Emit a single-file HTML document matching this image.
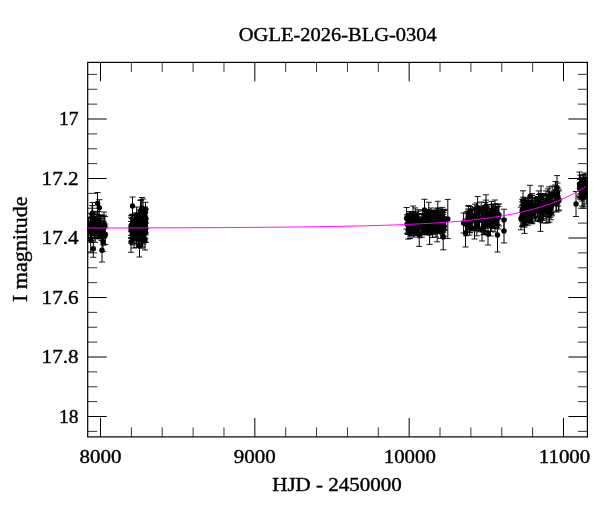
<!DOCTYPE html>
<html><head><meta charset="utf-8"><title>OGLE-2026-BLG-0304</title>
<style>html,body{margin:0;padding:0;background:#fff;overflow:hidden}svg{display:block;will-change:transform}</style></head>
<body>
<svg width="600" height="512" viewBox="0 0 600 512">
<rect width="600" height="512" fill="#fff"/>
<defs><clipPath id="c"><rect x="87.7" y="62.4" width="499.7" height="374.5"/></clipPath></defs>
<path d="M100.50 62.4v19.0M100.50 436.9v-19.0M254.83 62.4v19.0M254.83 436.9v-19.0M409.17 62.4v19.0M409.17 436.9v-19.0M563.50 62.4v19.0M563.50 436.9v-19.0M87.7 119.00h19.0M587.4 119.00h-19.0M87.7 178.50h19.0M587.4 178.50h-19.0M87.7 238.00h19.0M587.4 238.00h-19.0M87.7 297.50h19.0M587.4 297.50h-19.0M87.7 357.00h19.0M587.4 357.00h-19.0M87.7 416.50h19.0M587.4 416.50h-19.0" stroke="#000" stroke-width="1" fill="none"/>
<path d="M131.37 62.4v9.5M131.37 436.9v-9.5M162.23 62.4v9.5M162.23 436.9v-9.5M193.10 62.4v9.5M193.10 436.9v-9.5M223.97 62.4v9.5M223.97 436.9v-9.5M285.70 62.4v9.5M285.70 436.9v-9.5M316.57 62.4v9.5M316.57 436.9v-9.5M347.43 62.4v9.5M347.43 436.9v-9.5M378.30 62.4v9.5M378.30 436.9v-9.5M440.03 62.4v9.5M440.03 436.9v-9.5M470.90 62.4v9.5M470.90 436.9v-9.5M501.77 62.4v9.5M501.77 436.9v-9.5M532.63 62.4v9.5M532.63 436.9v-9.5M87.7 74.38h9.5M587.4 74.38h-9.5M87.7 89.25h9.5M587.4 89.25h-9.5M87.7 104.12h9.5M587.4 104.12h-9.5M87.7 133.88h9.5M587.4 133.88h-9.5M87.7 148.75h9.5M587.4 148.75h-9.5M87.7 163.62h9.5M587.4 163.62h-9.5M87.7 193.38h9.5M587.4 193.38h-9.5M87.7 208.25h9.5M587.4 208.25h-9.5M87.7 223.13h9.5M587.4 223.13h-9.5M87.7 252.87h9.5M587.4 252.87h-9.5M87.7 267.75h9.5M587.4 267.75h-9.5M87.7 282.63h9.5M587.4 282.63h-9.5M87.7 312.37h9.5M587.4 312.37h-9.5M87.7 327.25h9.5M587.4 327.25h-9.5M87.7 342.12h9.5M587.4 342.12h-9.5M87.7 371.88h9.5M587.4 371.88h-9.5M87.7 386.75h9.5M587.4 386.75h-9.5M87.7 401.62h9.5M587.4 401.62h-9.5M87.7 431.38h9.5M587.4 431.38h-9.5" stroke="#000" stroke-width="0.8" fill="none"/>
<rect x="87.7" y="62.4" width="499.7" height="374.5" fill="none" stroke="#000" stroke-width="1.2"/>
<g clip-path="url(#c)">
<path d="M96.0 211.6V233.0M99.3 220.4V238.0M97.8 218.6V238.8M91.2 217.1V237.2M92.1 205.6V227.8M99.0 216.0V235.1M88.6 217.5V238.1M98.4 219.8V237.2M98.1 211.4V230.8M94.1 216.4V235.3M92.1 214.6V232.5M91.8 213.4V235.3M91.6 223.1V242.4M93.8 212.9V235.8M94.6 217.6V238.1M95.1 221.7V242.3M100.4 214.9V235.8M98.0 216.9V238.0M96.0 219.5V237.4M100.4 218.4V238.1M91.1 213.3V231.7M90.4 218.6V238.0M101.0 216.2V238.8M105.3 224.1V244.4M101.6 222.4V240.5M103.9 215.2V237.5M102.0 215.7V236.6M104.9 216.5V236.9M103.8 226.0V245.2M132.8 228.8V244.9M132.1 215.0V234.2M131.2 215.4V235.4M134.9 219.4V238.0M133.1 220.1V239.7M133.5 218.6V235.8M132.4 218.6V235.6M134.4 221.8V239.6M131.1 221.5V238.4M132.7 214.9V232.6M131.1 217.2V238.0M131.6 218.6V237.5M135.4 214.8V232.5M134.0 220.3V237.6M132.9 214.1V234.9M133.4 222.7V240.9M145.7 222.9V242.5M141.1 228.3V248.2M141.2 226.0V246.1M144.9 211.9V231.3M143.4 209.7V227.5M141.7 224.2V240.5M140.2 213.0V231.6M144.7 217.9V237.7M140.1 224.0V241.0M145.1 210.2V227.5M136.7 207.0V225.6M140.3 219.4V239.2M141.1 217.9V238.4M145.4 218.2V234.8M138.5 219.6V236.6M144.0 213.1V233.1M142.7 209.9V229.2M143.1 217.2V236.8M142.2 212.0V233.0M145.6 208.5V229.2M139.3 220.6V240.8M139.9 217.6V237.5M138.0 221.1V239.1M136.5 212.9V232.1M138.1 215.8V232.7M145.1 212.5V232.3M144.3 213.1V232.9M137.1 219.2V238.8M142.0 214.5V232.7M140.7 220.9V238.8M141.9 220.7V238.8M142.5 230.9V247.1M139.0 210.1V230.3M145.5 223.4V242.1M140.6 218.4V236.4M142.2 218.4V237.2M142.3 210.1V229.7M137.8 216.4V234.3M136.6 221.9V242.1M140.1 217.1V237.7M143.6 219.4V237.3M144.1 217.9V234.6M143.2 224.3V244.1M137.1 217.3V238.3M145.0 207.4V224.1M143.9 214.3V233.9M144.7 207.0V227.1M141.2 199.7V220.3M145.1 216.7V233.3M136.5 227.0V243.5M136.3 217.7V238.6M136.2 213.2V229.7M138.5 214.3V231.2M138.5 224.7V243.5M137.9 219.6V237.9M141.6 218.3V238.0M136.4 219.1V236.1M141.8 217.8V238.4M137.6 223.8V240.9M142.7 221.0V240.8M136.2 220.9V237.3M139.1 213.0V231.3M145.3 222.6V238.8M141.3 215.3V232.9M144.0 225.1V242.7M142.5 211.1V230.7M142.0 218.0V236.3M137.9 219.7V236.0M141.7 210.1V231.1M136.4 227.1V247.6M442.2 211.6V228.8M416.1 215.8V234.5M421.9 214.2V231.9M415.4 212.8V230.8M411.4 216.1V235.9M407.8 215.0V232.8M426.1 215.7V234.9M411.3 214.9V233.4M413.4 211.6V230.2M440.1 212.4V232.3M425.4 214.8V232.6M413.7 216.9V237.1M432.6 210.4V230.4M416.9 214.2V233.5M427.1 209.6V227.0M417.5 216.2V235.6M426.6 210.7V229.8M431.0 208.0V227.6M427.4 214.3V232.2M421.9 216.9V237.2M437.3 208.2V228.3M440.6 210.6V228.1M413.5 212.8V231.0M411.8 212.2V229.5M410.9 215.5V235.3M444.7 209.9V230.0M443.2 210.1V230.5M415.5 216.2V235.4M444.3 210.4V229.8M414.6 215.7V235.1M426.3 211.1V230.1M425.9 209.8V230.0M442.2 207.4V226.6M408.1 220.8V239.1M418.8 213.5V232.3M429.9 215.4V232.7M409.1 214.5V234.0M415.7 214.8V234.2M424.6 214.5V233.0M440.9 218.4V238.3M436.2 210.0V229.6M438.8 208.9V227.2M436.2 211.2V228.6M434.1 210.2V227.9M439.6 216.0V233.8M433.1 216.5V234.7M435.2 210.8V229.4M418.3 209.7V229.8M413.0 214.1V232.1M436.0 217.1V237.1M413.0 206.0V225.4M442.4 214.1V234.1M429.8 210.8V229.3M419.3 218.4V235.6M443.0 209.4V229.1M412.6 214.3V232.3M426.6 210.1V227.8M410.1 211.5V231.2M444.2 216.8V236.2M428.9 216.9V234.8M437.8 212.6V230.6M417.5 211.2V231.4M437.8 208.1V226.2M433.9 212.2V231.6M431.6 214.3V231.9M443.6 212.3V232.1M423.4 214.6V232.2M422.7 210.9V229.8M433.5 214.2V231.5M439.1 213.1V232.1M419.6 217.8V237.7M432.6 220.0V237.5M414.7 214.6V232.7M428.0 211.3V230.9M436.5 213.1V232.3M409.0 213.4V231.6M434.9 211.2V230.4M407.1 214.9V233.6M443.9 209.3V229.3M424.8 216.3V234.5M422.5 213.6V233.2M434.6 214.1V233.4M426.9 213.1V232.7M435.0 211.6V230.0M409.8 211.7V231.2M428.4 212.9V232.4M428.3 212.5V231.0M442.9 214.5V231.8M408.0 214.2V234.5M424.2 209.8V229.3M431.1 214.5V232.4M428.0 209.6V229.1M409.4 213.4V231.5M429.6 213.1V231.8M415.2 207.9V227.8M414.1 215.1V233.7M440.8 214.0V232.1M414.2 214.5V232.7M424.2 213.6V231.1M435.8 212.9V230.8M434.1 211.1V229.1M428.1 213.7V231.5M438.0 212.4V229.8M424.7 214.5V233.2M430.7 210.7V228.6M490.7 208.6V231.1M496.9 206.8V225.4M475.1 211.9V230.3M485.2 210.9V230.6M483.0 206.2V228.9M468.5 205.5V223.7M470.2 210.1V232.7M495.6 203.9V225.0M481.9 208.5V226.9M493.0 204.9V225.7M468.2 209.0V229.3M485.9 200.1V220.9M495.0 210.3V232.0M495.0 207.2V228.6M466.2 212.8V235.8M483.5 216.0V234.8M478.4 208.3V230.4M491.5 201.4V221.5M468.5 206.3V228.2M474.9 204.3V226.8M493.2 204.1V227.1M481.7 209.5V228.8M481.2 202.0V222.2M498.4 206.3V229.0M476.7 202.9V225.7M467.4 211.5V231.4M479.1 207.4V230.1M471.1 209.0V229.0M468.7 210.1V230.0M485.0 205.7V227.5M497.9 204.3V224.7M485.4 202.5V222.8M487.7 208.0V228.0M476.8 215.6V235.8M485.1 215.8V234.5M491.2 212.9V231.3M485.7 209.9V231.6M492.9 204.7V225.5M484.4 212.7V234.1M472.6 208.7V230.7M485.5 208.6V227.7M482.4 208.2V227.4M471.6 210.6V230.0M486.7 207.0V226.5M493.4 206.1V227.9M470.5 206.5V226.4M484.3 207.5V227.1M490.6 214.9V236.0M479.5 209.4V228.4M475.0 209.6V228.1M478.5 210.3V231.8M484.1 210.1V231.8M489.0 204.4V223.9M484.7 207.2V228.4M469.6 214.2V232.4M493.4 208.2V228.2M496.9 206.7V227.6M469.4 215.9V235.1M474.4 207.5V227.3M471.8 209.7V230.8M540.0 202.4V221.7M526.7 202.2V220.9M543.6 194.4V213.3M524.4 201.9V222.8M551.6 195.8V215.9M528.2 200.6V220.7M529.7 202.3V221.3M528.1 198.1V219.4M552.2 186.1V205.6M530.7 202.9V222.9M540.5 199.3V219.6M552.2 192.3V214.9M551.0 194.2V213.4M523.3 204.4V226.0M537.9 196.5V216.1M540.3 193.5V216.0M543.4 195.5V215.5M532.2 203.2V223.8M532.0 193.6V216.0M522.1 205.4V226.7M523.1 200.4V218.8M538.8 194.5V213.2M524.3 204.3V227.2M528.2 201.1V219.3M532.2 195.3V214.8M524.1 198.9V221.7M522.9 205.9V224.0M550.3 198.5V217.3M535.3 197.6V216.7M528.2 202.7V221.1M543.6 198.3V218.7M522.3 199.3V220.2M529.5 201.6V221.2M551.3 194.1V212.6M549.4 191.3V213.3M541.4 194.1V216.1M524.8 201.2V222.0M531.7 200.4V219.1M522.9 199.5V220.2M528.7 198.4V219.5M522.8 205.5V225.7M525.8 200.7V223.0M541.3 199.9V219.8M525.1 205.1V225.7M526.8 203.6V222.2M549.5 201.4V222.2M532.2 195.7V217.6M532.2 201.4V223.1M524.6 200.7V220.0M546.3 200.0V223.0M542.6 201.4V223.0M538.7 190.9V211.0M540.8 193.6V213.7M525.1 202.6V224.5M529.9 203.3V222.2M539.8 199.2V220.4M551.0 192.5V214.1M546.9 196.2V216.8M541.5 197.8V220.2M537.8 197.4V217.8M522.5 205.2V225.6M549.2 186.8V206.2M524.0 202.4V225.0M525.9 197.8V217.4M543.1 198.8V220.2M546.8 194.2V214.3M546.0 190.9V213.6M535.8 198.4V221.1M527.4 198.5V216.7M523.1 197.2V220.1M548.0 188.8V209.8M551.8 194.0V212.3M529.4 201.6V222.1M548.4 198.8V217.1M534.3 198.0V218.8M531.5 203.8V222.7M537.4 198.1V218.0M522.2 201.9V221.4M535.5 200.0V221.0M528.1 203.1V225.2M543.7 193.6V216.2M537.3 197.4V217.0M583.5 180.3V198.1M579.5 178.7V197.2M582.1 185.8V206.1M586.2 184.8V204.0M580.3 175.2V194.3M585.6 177.7V197.8M584.1 186.6V206.2M581.6 182.8V201.0M584.9 179.2V196.5M581.5 179.0V197.9M585.8 174.4V195.0M580.1 179.6V199.0M580.3 179.3V196.6M584.8 180.4V199.2M582.6 177.8V196.4M580.5 178.6V197.9M583.1 174.4V193.7M581.6 178.6V199.4M583.3 175.8V194.1M584.7 177.3V195.9M97.5 192.5V214.5M92.5 202.5V223.5M99.3 199.7V215.7M104.0 212.0V234.0M103.3 224.3V244.3M103.0 231.7V251.7M102.0 238.6V262.0M93.3 240.1V257.3M90.7 228.0V252.0M132.5 197.0V215.0M142.0 197.5V218.5M143.0 199.0V220.0M140.5 200.5V221.5M145.5 202.3V221.7M145.8 209.5V228.5M131.0 231.7V252.3M139.5 235.0V257.0M145.0 230.0V250.0M134.0 228.0V248.0M406.6 207.5V229.1M424.5 199.3V220.7M428.8 202.3V222.7M437.8 201.3V222.7M447.8 199.4V238.6M410.0 217.5V238.5M419.2 222.6V246.4M429.6 221.6V244.4M437.2 220.2V241.8M443.2 224.2V249.8M477.6 196.4V218.6M486.0 194.8V217.2M495.0 200.0V222.0M499.0 204.0V226.0M504.0 209.2V230.8M504.0 219.0V243.0M497.5 218.0V252.0M465.5 219.0V247.0M463.6 213.0V233.0M474.5 218.0V239.0M482.0 219.0V241.0M488.0 223.0V245.0M523.0 190.8V213.2M530.0 185.3V207.7M541.0 186.0V209.0M557.0 175.6V199.4M556.0 187.0V211.0M558.5 191.0V211.0M555.0 185.0V205.0M557.5 183.0V203.0M556.5 196.0V212.0M558.0 188.0V206.0M555.5 181.5V200.5M559.0 190.0V210.0M521.0 207.2V229.8M524.5 210.6V233.4M540.5 208.6V231.4M548.0 200.2V222.8M551.0 197.3V219.7M576.0 191.5V216.5M579.5 172.0V196.0M583.0 184.0V208.0M581.0 178.0V198.0M585.0 173.0V193.0" stroke="#000" stroke-width="1" fill="none"/>
<path d="M93.0 211.6h6.0M93.0 233.0h6.0M96.3 220.4h6.0M96.3 238.0h6.0M94.8 218.6h6.0M94.8 238.8h6.0M88.2 217.1h6.0M88.2 237.2h6.0M89.1 205.6h6.0M89.1 227.8h6.0M96.0 216.0h6.0M96.0 235.1h6.0M85.6 217.5h6.0M85.6 238.1h6.0M95.4 219.8h6.0M95.4 237.2h6.0M95.1 211.4h6.0M95.1 230.8h6.0M91.1 216.4h6.0M91.1 235.3h6.0M89.1 214.6h6.0M89.1 232.5h6.0M88.8 213.4h6.0M88.8 235.3h6.0M88.6 223.1h6.0M88.6 242.4h6.0M90.8 212.9h6.0M90.8 235.8h6.0M91.6 217.6h6.0M91.6 238.1h6.0M92.1 221.7h6.0M92.1 242.3h6.0M97.4 214.9h6.0M97.4 235.8h6.0M95.0 216.9h6.0M95.0 238.0h6.0M93.0 219.5h6.0M93.0 237.4h6.0M97.4 218.4h6.0M97.4 238.1h6.0M88.1 213.3h6.0M88.1 231.7h6.0M87.4 218.6h6.0M87.4 238.0h6.0M98.0 216.2h6.0M98.0 238.8h6.0M102.3 224.1h6.0M102.3 244.4h6.0M98.6 222.4h6.0M98.6 240.5h6.0M100.9 215.2h6.0M100.9 237.5h6.0M99.0 215.7h6.0M99.0 236.6h6.0M101.9 216.5h6.0M101.9 236.9h6.0M100.8 226.0h6.0M100.8 245.2h6.0M129.8 228.8h6.0M129.8 244.9h6.0M129.1 215.0h6.0M129.1 234.2h6.0M128.2 215.4h6.0M128.2 235.4h6.0M131.9 219.4h6.0M131.9 238.0h6.0M130.1 220.1h6.0M130.1 239.7h6.0M130.5 218.6h6.0M130.5 235.8h6.0M129.4 218.6h6.0M129.4 235.6h6.0M131.4 221.8h6.0M131.4 239.6h6.0M128.1 221.5h6.0M128.1 238.4h6.0M129.7 214.9h6.0M129.7 232.6h6.0M128.1 217.2h6.0M128.1 238.0h6.0M128.6 218.6h6.0M128.6 237.5h6.0M132.4 214.8h6.0M132.4 232.5h6.0M131.0 220.3h6.0M131.0 237.6h6.0M129.9 214.1h6.0M129.9 234.9h6.0M130.4 222.7h6.0M130.4 240.9h6.0M142.7 222.9h6.0M142.7 242.5h6.0M138.1 228.3h6.0M138.1 248.2h6.0M138.2 226.0h6.0M138.2 246.1h6.0M141.9 211.9h6.0M141.9 231.3h6.0M140.4 209.7h6.0M140.4 227.5h6.0M138.7 224.2h6.0M138.7 240.5h6.0M137.2 213.0h6.0M137.2 231.6h6.0M141.7 217.9h6.0M141.7 237.7h6.0M137.1 224.0h6.0M137.1 241.0h6.0M142.1 210.2h6.0M142.1 227.5h6.0M133.7 207.0h6.0M133.7 225.6h6.0M137.3 219.4h6.0M137.3 239.2h6.0M138.1 217.9h6.0M138.1 238.4h6.0M142.4 218.2h6.0M142.4 234.8h6.0M135.5 219.6h6.0M135.5 236.6h6.0M141.0 213.1h6.0M141.0 233.1h6.0M139.7 209.9h6.0M139.7 229.2h6.0M140.1 217.2h6.0M140.1 236.8h6.0M139.2 212.0h6.0M139.2 233.0h6.0M142.6 208.5h6.0M142.6 229.2h6.0M136.3 220.6h6.0M136.3 240.8h6.0M136.9 217.6h6.0M136.9 237.5h6.0M135.0 221.1h6.0M135.0 239.1h6.0M133.5 212.9h6.0M133.5 232.1h6.0M135.1 215.8h6.0M135.1 232.7h6.0M142.1 212.5h6.0M142.1 232.3h6.0M141.3 213.1h6.0M141.3 232.9h6.0M134.1 219.2h6.0M134.1 238.8h6.0M139.0 214.5h6.0M139.0 232.7h6.0M137.7 220.9h6.0M137.7 238.8h6.0M138.9 220.7h6.0M138.9 238.8h6.0M139.5 230.9h6.0M139.5 247.1h6.0M136.0 210.1h6.0M136.0 230.3h6.0M142.5 223.4h6.0M142.5 242.1h6.0M137.6 218.4h6.0M137.6 236.4h6.0M139.2 218.4h6.0M139.2 237.2h6.0M139.3 210.1h6.0M139.3 229.7h6.0M134.8 216.4h6.0M134.8 234.3h6.0M133.6 221.9h6.0M133.6 242.1h6.0M137.1 217.1h6.0M137.1 237.7h6.0M140.6 219.4h6.0M140.6 237.3h6.0M141.1 217.9h6.0M141.1 234.6h6.0M140.2 224.3h6.0M140.2 244.1h6.0M134.1 217.3h6.0M134.1 238.3h6.0M142.0 207.4h6.0M142.0 224.1h6.0M140.9 214.3h6.0M140.9 233.9h6.0M141.7 207.0h6.0M141.7 227.1h6.0M138.2 199.7h6.0M138.2 220.3h6.0M142.1 216.7h6.0M142.1 233.3h6.0M133.5 227.0h6.0M133.5 243.5h6.0M133.3 217.7h6.0M133.3 238.6h6.0M133.2 213.2h6.0M133.2 229.7h6.0M135.5 214.3h6.0M135.5 231.2h6.0M135.5 224.7h6.0M135.5 243.5h6.0M134.9 219.6h6.0M134.9 237.9h6.0M138.6 218.3h6.0M138.6 238.0h6.0M133.4 219.1h6.0M133.4 236.1h6.0M138.8 217.8h6.0M138.8 238.4h6.0M134.6 223.8h6.0M134.6 240.9h6.0M139.7 221.0h6.0M139.7 240.8h6.0M133.2 220.9h6.0M133.2 237.3h6.0M136.1 213.0h6.0M136.1 231.3h6.0M142.3 222.6h6.0M142.3 238.8h6.0M138.3 215.3h6.0M138.3 232.9h6.0M141.0 225.1h6.0M141.0 242.7h6.0M139.5 211.1h6.0M139.5 230.7h6.0M139.0 218.0h6.0M139.0 236.3h6.0M134.9 219.7h6.0M134.9 236.0h6.0M138.7 210.1h6.0M138.7 231.1h6.0M133.4 227.1h6.0M133.4 247.6h6.0M439.2 211.6h6.0M439.2 228.8h6.0M413.1 215.8h6.0M413.1 234.5h6.0M418.9 214.2h6.0M418.9 231.9h6.0M412.4 212.8h6.0M412.4 230.8h6.0M408.4 216.1h6.0M408.4 235.9h6.0M404.8 215.0h6.0M404.8 232.8h6.0M423.1 215.7h6.0M423.1 234.9h6.0M408.3 214.9h6.0M408.3 233.4h6.0M410.4 211.6h6.0M410.4 230.2h6.0M437.1 212.4h6.0M437.1 232.3h6.0M422.4 214.8h6.0M422.4 232.6h6.0M410.7 216.9h6.0M410.7 237.1h6.0M429.6 210.4h6.0M429.6 230.4h6.0M413.9 214.2h6.0M413.9 233.5h6.0M424.1 209.6h6.0M424.1 227.0h6.0M414.5 216.2h6.0M414.5 235.6h6.0M423.6 210.7h6.0M423.6 229.8h6.0M428.0 208.0h6.0M428.0 227.6h6.0M424.4 214.3h6.0M424.4 232.2h6.0M418.9 216.9h6.0M418.9 237.2h6.0M434.3 208.2h6.0M434.3 228.3h6.0M437.6 210.6h6.0M437.6 228.1h6.0M410.5 212.8h6.0M410.5 231.0h6.0M408.8 212.2h6.0M408.8 229.5h6.0M407.9 215.5h6.0M407.9 235.3h6.0M441.7 209.9h6.0M441.7 230.0h6.0M440.2 210.1h6.0M440.2 230.5h6.0M412.5 216.2h6.0M412.5 235.4h6.0M441.3 210.4h6.0M441.3 229.8h6.0M411.6 215.7h6.0M411.6 235.1h6.0M423.3 211.1h6.0M423.3 230.1h6.0M422.9 209.8h6.0M422.9 230.0h6.0M439.2 207.4h6.0M439.2 226.6h6.0M405.1 220.8h6.0M405.1 239.1h6.0M415.8 213.5h6.0M415.8 232.3h6.0M426.9 215.4h6.0M426.9 232.7h6.0M406.1 214.5h6.0M406.1 234.0h6.0M412.7 214.8h6.0M412.7 234.2h6.0M421.6 214.5h6.0M421.6 233.0h6.0M437.9 218.4h6.0M437.9 238.3h6.0M433.2 210.0h6.0M433.2 229.6h6.0M435.8 208.9h6.0M435.8 227.2h6.0M433.2 211.2h6.0M433.2 228.6h6.0M431.1 210.2h6.0M431.1 227.9h6.0M436.6 216.0h6.0M436.6 233.8h6.0M430.1 216.5h6.0M430.1 234.7h6.0M432.2 210.8h6.0M432.2 229.4h6.0M415.3 209.7h6.0M415.3 229.8h6.0M410.0 214.1h6.0M410.0 232.1h6.0M433.0 217.1h6.0M433.0 237.1h6.0M410.0 206.0h6.0M410.0 225.4h6.0M439.4 214.1h6.0M439.4 234.1h6.0M426.8 210.8h6.0M426.8 229.3h6.0M416.3 218.4h6.0M416.3 235.6h6.0M440.0 209.4h6.0M440.0 229.1h6.0M409.6 214.3h6.0M409.6 232.3h6.0M423.6 210.1h6.0M423.6 227.8h6.0M407.1 211.5h6.0M407.1 231.2h6.0M441.2 216.8h6.0M441.2 236.2h6.0M425.9 216.9h6.0M425.9 234.8h6.0M434.8 212.6h6.0M434.8 230.6h6.0M414.5 211.2h6.0M414.5 231.4h6.0M434.8 208.1h6.0M434.8 226.2h6.0M430.9 212.2h6.0M430.9 231.6h6.0M428.6 214.3h6.0M428.6 231.9h6.0M440.6 212.3h6.0M440.6 232.1h6.0M420.4 214.6h6.0M420.4 232.2h6.0M419.7 210.9h6.0M419.7 229.8h6.0M430.5 214.2h6.0M430.5 231.5h6.0M436.1 213.1h6.0M436.1 232.1h6.0M416.6 217.8h6.0M416.6 237.7h6.0M429.6 220.0h6.0M429.6 237.5h6.0M411.7 214.6h6.0M411.7 232.7h6.0M425.0 211.3h6.0M425.0 230.9h6.0M433.5 213.1h6.0M433.5 232.3h6.0M406.0 213.4h6.0M406.0 231.6h6.0M431.9 211.2h6.0M431.9 230.4h6.0M404.1 214.9h6.0M404.1 233.6h6.0M440.9 209.3h6.0M440.9 229.3h6.0M421.8 216.3h6.0M421.8 234.5h6.0M419.5 213.6h6.0M419.5 233.2h6.0M431.6 214.1h6.0M431.6 233.4h6.0M423.9 213.1h6.0M423.9 232.7h6.0M432.0 211.6h6.0M432.0 230.0h6.0M406.8 211.7h6.0M406.8 231.2h6.0M425.4 212.9h6.0M425.4 232.4h6.0M425.3 212.5h6.0M425.3 231.0h6.0M439.9 214.5h6.0M439.9 231.8h6.0M405.0 214.2h6.0M405.0 234.5h6.0M421.2 209.8h6.0M421.2 229.3h6.0M428.1 214.5h6.0M428.1 232.4h6.0M425.0 209.6h6.0M425.0 229.1h6.0M406.4 213.4h6.0M406.4 231.5h6.0M426.6 213.1h6.0M426.6 231.8h6.0M412.2 207.9h6.0M412.2 227.8h6.0M411.1 215.1h6.0M411.1 233.7h6.0M437.8 214.0h6.0M437.8 232.1h6.0M411.2 214.5h6.0M411.2 232.7h6.0M421.2 213.6h6.0M421.2 231.1h6.0M432.8 212.9h6.0M432.8 230.8h6.0M431.1 211.1h6.0M431.1 229.1h6.0M425.1 213.7h6.0M425.1 231.5h6.0M435.0 212.4h6.0M435.0 229.8h6.0M421.7 214.5h6.0M421.7 233.2h6.0M427.7 210.7h6.0M427.7 228.6h6.0M487.7 208.6h6.0M487.7 231.1h6.0M493.9 206.8h6.0M493.9 225.4h6.0M472.1 211.9h6.0M472.1 230.3h6.0M482.2 210.9h6.0M482.2 230.6h6.0M480.0 206.2h6.0M480.0 228.9h6.0M465.5 205.5h6.0M465.5 223.7h6.0M467.2 210.1h6.0M467.2 232.7h6.0M492.6 203.9h6.0M492.6 225.0h6.0M478.9 208.5h6.0M478.9 226.9h6.0M490.0 204.9h6.0M490.0 225.7h6.0M465.2 209.0h6.0M465.2 229.3h6.0M482.9 200.1h6.0M482.9 220.9h6.0M492.0 210.3h6.0M492.0 232.0h6.0M492.0 207.2h6.0M492.0 228.6h6.0M463.2 212.8h6.0M463.2 235.8h6.0M480.5 216.0h6.0M480.5 234.8h6.0M475.4 208.3h6.0M475.4 230.4h6.0M488.5 201.4h6.0M488.5 221.5h6.0M465.5 206.3h6.0M465.5 228.2h6.0M471.9 204.3h6.0M471.9 226.8h6.0M490.2 204.1h6.0M490.2 227.1h6.0M478.7 209.5h6.0M478.7 228.8h6.0M478.2 202.0h6.0M478.2 222.2h6.0M495.4 206.3h6.0M495.4 229.0h6.0M473.7 202.9h6.0M473.7 225.7h6.0M464.4 211.5h6.0M464.4 231.4h6.0M476.1 207.4h6.0M476.1 230.1h6.0M468.1 209.0h6.0M468.1 229.0h6.0M465.7 210.1h6.0M465.7 230.0h6.0M482.0 205.7h6.0M482.0 227.5h6.0M494.9 204.3h6.0M494.9 224.7h6.0M482.4 202.5h6.0M482.4 222.8h6.0M484.7 208.0h6.0M484.7 228.0h6.0M473.8 215.6h6.0M473.8 235.8h6.0M482.1 215.8h6.0M482.1 234.5h6.0M488.2 212.9h6.0M488.2 231.3h6.0M482.7 209.9h6.0M482.7 231.6h6.0M489.9 204.7h6.0M489.9 225.5h6.0M481.4 212.7h6.0M481.4 234.1h6.0M469.6 208.7h6.0M469.6 230.7h6.0M482.5 208.6h6.0M482.5 227.7h6.0M479.4 208.2h6.0M479.4 227.4h6.0M468.6 210.6h6.0M468.6 230.0h6.0M483.7 207.0h6.0M483.7 226.5h6.0M490.4 206.1h6.0M490.4 227.9h6.0M467.5 206.5h6.0M467.5 226.4h6.0M481.3 207.5h6.0M481.3 227.1h6.0M487.6 214.9h6.0M487.6 236.0h6.0M476.5 209.4h6.0M476.5 228.4h6.0M472.0 209.6h6.0M472.0 228.1h6.0M475.5 210.3h6.0M475.5 231.8h6.0M481.1 210.1h6.0M481.1 231.8h6.0M486.0 204.4h6.0M486.0 223.9h6.0M481.7 207.2h6.0M481.7 228.4h6.0M466.6 214.2h6.0M466.6 232.4h6.0M490.4 208.2h6.0M490.4 228.2h6.0M493.9 206.7h6.0M493.9 227.6h6.0M466.4 215.9h6.0M466.4 235.1h6.0M471.4 207.5h6.0M471.4 227.3h6.0M468.8 209.7h6.0M468.8 230.8h6.0M537.0 202.4h6.0M537.0 221.7h6.0M523.7 202.2h6.0M523.7 220.9h6.0M540.6 194.4h6.0M540.6 213.3h6.0M521.4 201.9h6.0M521.4 222.8h6.0M548.6 195.8h6.0M548.6 215.9h6.0M525.2 200.6h6.0M525.2 220.7h6.0M526.7 202.3h6.0M526.7 221.3h6.0M525.1 198.1h6.0M525.1 219.4h6.0M549.2 186.1h6.0M549.2 205.6h6.0M527.7 202.9h6.0M527.7 222.9h6.0M537.5 199.3h6.0M537.5 219.6h6.0M549.2 192.3h6.0M549.2 214.9h6.0M548.0 194.2h6.0M548.0 213.4h6.0M520.3 204.4h6.0M520.3 226.0h6.0M534.9 196.5h6.0M534.9 216.1h6.0M537.3 193.5h6.0M537.3 216.0h6.0M540.4 195.5h6.0M540.4 215.5h6.0M529.2 203.2h6.0M529.2 223.8h6.0M529.0 193.6h6.0M529.0 216.0h6.0M519.1 205.4h6.0M519.1 226.7h6.0M520.1 200.4h6.0M520.1 218.8h6.0M535.8 194.5h6.0M535.8 213.2h6.0M521.3 204.3h6.0M521.3 227.2h6.0M525.2 201.1h6.0M525.2 219.3h6.0M529.2 195.3h6.0M529.2 214.8h6.0M521.1 198.9h6.0M521.1 221.7h6.0M519.9 205.9h6.0M519.9 224.0h6.0M547.3 198.5h6.0M547.3 217.3h6.0M532.3 197.6h6.0M532.3 216.7h6.0M525.2 202.7h6.0M525.2 221.1h6.0M540.6 198.3h6.0M540.6 218.7h6.0M519.3 199.3h6.0M519.3 220.2h6.0M526.5 201.6h6.0M526.5 221.2h6.0M548.3 194.1h6.0M548.3 212.6h6.0M546.4 191.3h6.0M546.4 213.3h6.0M538.4 194.1h6.0M538.4 216.1h6.0M521.8 201.2h6.0M521.8 222.0h6.0M528.7 200.4h6.0M528.7 219.1h6.0M519.9 199.5h6.0M519.9 220.2h6.0M525.7 198.4h6.0M525.7 219.5h6.0M519.8 205.5h6.0M519.8 225.7h6.0M522.8 200.7h6.0M522.8 223.0h6.0M538.3 199.9h6.0M538.3 219.8h6.0M522.1 205.1h6.0M522.1 225.7h6.0M523.8 203.6h6.0M523.8 222.2h6.0M546.5 201.4h6.0M546.5 222.2h6.0M529.2 195.7h6.0M529.2 217.6h6.0M529.2 201.4h6.0M529.2 223.1h6.0M521.6 200.7h6.0M521.6 220.0h6.0M543.3 200.0h6.0M543.3 223.0h6.0M539.6 201.4h6.0M539.6 223.0h6.0M535.7 190.9h6.0M535.7 211.0h6.0M537.8 193.6h6.0M537.8 213.7h6.0M522.1 202.6h6.0M522.1 224.5h6.0M526.9 203.3h6.0M526.9 222.2h6.0M536.8 199.2h6.0M536.8 220.4h6.0M548.0 192.5h6.0M548.0 214.1h6.0M543.9 196.2h6.0M543.9 216.8h6.0M538.5 197.8h6.0M538.5 220.2h6.0M534.8 197.4h6.0M534.8 217.8h6.0M519.5 205.2h6.0M519.5 225.6h6.0M546.2 186.8h6.0M546.2 206.2h6.0M521.0 202.4h6.0M521.0 225.0h6.0M522.9 197.8h6.0M522.9 217.4h6.0M540.1 198.8h6.0M540.1 220.2h6.0M543.8 194.2h6.0M543.8 214.3h6.0M543.0 190.9h6.0M543.0 213.6h6.0M532.8 198.4h6.0M532.8 221.1h6.0M524.4 198.5h6.0M524.4 216.7h6.0M520.1 197.2h6.0M520.1 220.1h6.0M545.0 188.8h6.0M545.0 209.8h6.0M548.8 194.0h6.0M548.8 212.3h6.0M526.4 201.6h6.0M526.4 222.1h6.0M545.4 198.8h6.0M545.4 217.1h6.0M531.3 198.0h6.0M531.3 218.8h6.0M528.5 203.8h6.0M528.5 222.7h6.0M534.4 198.1h6.0M534.4 218.0h6.0M519.2 201.9h6.0M519.2 221.4h6.0M532.5 200.0h6.0M532.5 221.0h6.0M525.1 203.1h6.0M525.1 225.2h6.0M540.7 193.6h6.0M540.7 216.2h6.0M534.3 197.4h6.0M534.3 217.0h6.0M580.5 180.3h6.0M580.5 198.1h6.0M576.5 178.7h6.0M576.5 197.2h6.0M579.1 185.8h6.0M579.1 206.1h6.0M583.2 184.8h6.0M583.2 204.0h6.0M577.3 175.2h6.0M577.3 194.3h6.0M582.6 177.7h6.0M582.6 197.8h6.0M581.1 186.6h6.0M581.1 206.2h6.0M578.6 182.8h6.0M578.6 201.0h6.0M581.9 179.2h6.0M581.9 196.5h6.0M578.5 179.0h6.0M578.5 197.9h6.0M582.8 174.4h6.0M582.8 195.0h6.0M577.1 179.6h6.0M577.1 199.0h6.0M577.3 179.3h6.0M577.3 196.6h6.0M581.8 180.4h6.0M581.8 199.2h6.0M579.6 177.8h6.0M579.6 196.4h6.0M577.5 178.6h6.0M577.5 197.9h6.0M580.1 174.4h6.0M580.1 193.7h6.0M578.6 178.6h6.0M578.6 199.4h6.0M580.3 175.8h6.0M580.3 194.1h6.0M581.7 177.3h6.0M581.7 195.9h6.0M94.5 192.5h6.0M94.5 214.5h6.0M89.5 202.5h6.0M89.5 223.5h6.0M96.3 199.7h6.0M96.3 215.7h6.0M101.0 212.0h6.0M101.0 234.0h6.0M100.3 224.3h6.0M100.3 244.3h6.0M100.0 231.7h6.0M100.0 251.7h6.0M99.0 238.6h6.0M99.0 262.0h6.0M90.3 240.1h6.0M90.3 257.3h6.0M87.7 228.0h6.0M87.7 252.0h6.0M129.5 197.0h6.0M129.5 215.0h6.0M139.0 197.5h6.0M139.0 218.5h6.0M140.0 199.0h6.0M140.0 220.0h6.0M137.5 200.5h6.0M137.5 221.5h6.0M142.5 202.3h6.0M142.5 221.7h6.0M142.8 209.5h6.0M142.8 228.5h6.0M128.0 231.7h6.0M128.0 252.3h6.0M136.5 235.0h6.0M136.5 257.0h6.0M142.0 230.0h6.0M142.0 250.0h6.0M131.0 228.0h6.0M131.0 248.0h6.0M403.6 207.5h6.0M403.6 229.1h6.0M421.5 199.3h6.0M421.5 220.7h6.0M425.8 202.3h6.0M425.8 222.7h6.0M434.8 201.3h6.0M434.8 222.7h6.0M444.8 199.4h6.0M444.8 238.6h6.0M407.0 217.5h6.0M407.0 238.5h6.0M416.2 222.6h6.0M416.2 246.4h6.0M426.6 221.6h6.0M426.6 244.4h6.0M434.2 220.2h6.0M434.2 241.8h6.0M440.2 224.2h6.0M440.2 249.8h6.0M474.6 196.4h6.0M474.6 218.6h6.0M483.0 194.8h6.0M483.0 217.2h6.0M492.0 200.0h6.0M492.0 222.0h6.0M496.0 204.0h6.0M496.0 226.0h6.0M501.0 209.2h6.0M501.0 230.8h6.0M501.0 219.0h6.0M501.0 243.0h6.0M494.5 218.0h6.0M494.5 252.0h6.0M462.5 219.0h6.0M462.5 247.0h6.0M460.6 213.0h6.0M460.6 233.0h6.0M471.5 218.0h6.0M471.5 239.0h6.0M479.0 219.0h6.0M479.0 241.0h6.0M485.0 223.0h6.0M485.0 245.0h6.0M520.0 190.8h6.0M520.0 213.2h6.0M527.0 185.3h6.0M527.0 207.7h6.0M538.0 186.0h6.0M538.0 209.0h6.0M554.0 175.6h6.0M554.0 199.4h6.0M553.0 187.0h6.0M553.0 211.0h6.0M555.5 191.0h6.0M555.5 211.0h6.0M552.0 185.0h6.0M552.0 205.0h6.0M554.5 183.0h6.0M554.5 203.0h6.0M553.5 196.0h6.0M553.5 212.0h6.0M555.0 188.0h6.0M555.0 206.0h6.0M552.5 181.5h6.0M552.5 200.5h6.0M556.0 190.0h6.0M556.0 210.0h6.0M518.0 207.2h6.0M518.0 229.8h6.0M521.5 210.6h6.0M521.5 233.4h6.0M537.5 208.6h6.0M537.5 231.4h6.0M545.0 200.2h6.0M545.0 222.8h6.0M548.0 197.3h6.0M548.0 219.7h6.0M573.0 191.5h6.0M573.0 216.5h6.0M576.5 172.0h6.0M576.5 196.0h6.0M580.0 184.0h6.0M580.0 208.0h6.0M578.0 178.0h6.0M578.0 198.0h6.0M582.0 173.0h6.0M582.0 193.0h6.0" stroke="#000" stroke-width="0.9" fill="none"/>
<g fill="#000"><circle cx="96.0" cy="222.3" r="2.7"/><circle cx="99.3" cy="229.2" r="2.7"/><circle cx="97.8" cy="228.7" r="2.7"/><circle cx="91.2" cy="227.2" r="2.7"/><circle cx="92.1" cy="216.7" r="2.7"/><circle cx="99.0" cy="225.6" r="2.7"/><circle cx="88.6" cy="227.8" r="2.7"/><circle cx="98.4" cy="228.5" r="2.7"/><circle cx="98.1" cy="221.1" r="2.7"/><circle cx="94.1" cy="225.8" r="2.7"/><circle cx="92.1" cy="223.6" r="2.7"/><circle cx="91.8" cy="224.4" r="2.7"/><circle cx="91.6" cy="232.8" r="2.7"/><circle cx="93.8" cy="224.4" r="2.7"/><circle cx="94.6" cy="227.8" r="2.7"/><circle cx="95.1" cy="232.0" r="2.7"/><circle cx="100.4" cy="225.4" r="2.7"/><circle cx="98.0" cy="227.5" r="2.7"/><circle cx="96.0" cy="228.5" r="2.7"/><circle cx="100.4" cy="228.3" r="2.7"/><circle cx="91.1" cy="222.5" r="2.7"/><circle cx="90.4" cy="228.3" r="2.7"/><circle cx="101.0" cy="227.5" r="2.7"/><circle cx="105.3" cy="234.3" r="2.7"/><circle cx="101.6" cy="231.4" r="2.7"/><circle cx="103.9" cy="226.3" r="2.7"/><circle cx="102.0" cy="226.1" r="2.7"/><circle cx="104.9" cy="226.7" r="2.7"/><circle cx="103.8" cy="235.6" r="2.7"/><circle cx="132.8" cy="236.9" r="2.7"/><circle cx="132.1" cy="224.6" r="2.7"/><circle cx="131.2" cy="225.4" r="2.7"/><circle cx="134.9" cy="228.7" r="2.7"/><circle cx="133.1" cy="229.9" r="2.7"/><circle cx="133.5" cy="227.2" r="2.7"/><circle cx="132.4" cy="227.1" r="2.7"/><circle cx="134.4" cy="230.7" r="2.7"/><circle cx="131.1" cy="230.0" r="2.7"/><circle cx="132.7" cy="223.8" r="2.7"/><circle cx="131.1" cy="227.6" r="2.7"/><circle cx="131.6" cy="228.1" r="2.7"/><circle cx="135.4" cy="223.7" r="2.7"/><circle cx="134.0" cy="228.9" r="2.7"/><circle cx="132.9" cy="224.5" r="2.7"/><circle cx="133.4" cy="231.8" r="2.7"/><circle cx="145.7" cy="232.7" r="2.7"/><circle cx="141.1" cy="238.2" r="2.7"/><circle cx="141.2" cy="236.0" r="2.7"/><circle cx="144.9" cy="221.6" r="2.7"/><circle cx="143.4" cy="218.6" r="2.7"/><circle cx="141.7" cy="232.4" r="2.7"/><circle cx="140.2" cy="222.3" r="2.7"/><circle cx="144.7" cy="227.8" r="2.7"/><circle cx="140.1" cy="232.5" r="2.7"/><circle cx="145.1" cy="218.8" r="2.7"/><circle cx="136.7" cy="216.3" r="2.7"/><circle cx="140.3" cy="229.3" r="2.7"/><circle cx="141.1" cy="228.1" r="2.7"/><circle cx="145.4" cy="226.5" r="2.7"/><circle cx="138.5" cy="228.1" r="2.7"/><circle cx="144.0" cy="223.1" r="2.7"/><circle cx="142.7" cy="219.6" r="2.7"/><circle cx="143.1" cy="227.0" r="2.7"/><circle cx="142.2" cy="222.5" r="2.7"/><circle cx="145.6" cy="218.8" r="2.7"/><circle cx="139.3" cy="230.7" r="2.7"/><circle cx="139.9" cy="227.6" r="2.7"/><circle cx="138.0" cy="230.1" r="2.7"/><circle cx="136.5" cy="222.5" r="2.7"/><circle cx="138.1" cy="224.3" r="2.7"/><circle cx="145.1" cy="222.4" r="2.7"/><circle cx="144.3" cy="223.0" r="2.7"/><circle cx="137.1" cy="229.0" r="2.7"/><circle cx="142.0" cy="223.6" r="2.7"/><circle cx="140.7" cy="229.8" r="2.7"/><circle cx="141.9" cy="229.8" r="2.7"/><circle cx="142.5" cy="239.0" r="2.7"/><circle cx="139.0" cy="220.2" r="2.7"/><circle cx="145.5" cy="232.8" r="2.7"/><circle cx="140.6" cy="227.4" r="2.7"/><circle cx="142.2" cy="227.8" r="2.7"/><circle cx="142.3" cy="219.9" r="2.7"/><circle cx="137.8" cy="225.4" r="2.7"/><circle cx="136.6" cy="232.0" r="2.7"/><circle cx="140.1" cy="227.4" r="2.7"/><circle cx="143.6" cy="228.3" r="2.7"/><circle cx="144.1" cy="226.3" r="2.7"/><circle cx="143.2" cy="234.2" r="2.7"/><circle cx="137.1" cy="227.8" r="2.7"/><circle cx="145.0" cy="215.8" r="2.7"/><circle cx="143.9" cy="224.1" r="2.7"/><circle cx="144.7" cy="217.0" r="2.7"/><circle cx="141.2" cy="210.0" r="2.7"/><circle cx="145.1" cy="225.0" r="2.7"/><circle cx="136.5" cy="235.2" r="2.7"/><circle cx="136.3" cy="228.2" r="2.7"/><circle cx="136.2" cy="221.4" r="2.7"/><circle cx="138.5" cy="222.7" r="2.7"/><circle cx="138.5" cy="234.1" r="2.7"/><circle cx="137.9" cy="228.8" r="2.7"/><circle cx="141.6" cy="228.1" r="2.7"/><circle cx="136.4" cy="227.6" r="2.7"/><circle cx="141.8" cy="228.1" r="2.7"/><circle cx="137.6" cy="232.3" r="2.7"/><circle cx="142.7" cy="230.9" r="2.7"/><circle cx="136.2" cy="229.1" r="2.7"/><circle cx="139.1" cy="222.2" r="2.7"/><circle cx="145.3" cy="230.7" r="2.7"/><circle cx="141.3" cy="224.1" r="2.7"/><circle cx="144.0" cy="233.9" r="2.7"/><circle cx="142.5" cy="220.9" r="2.7"/><circle cx="142.0" cy="227.1" r="2.7"/><circle cx="137.9" cy="227.9" r="2.7"/><circle cx="141.7" cy="220.6" r="2.7"/><circle cx="136.4" cy="237.4" r="2.7"/><circle cx="442.2" cy="220.2" r="2.7"/><circle cx="416.1" cy="225.2" r="2.7"/><circle cx="421.9" cy="223.1" r="2.7"/><circle cx="415.4" cy="221.8" r="2.7"/><circle cx="411.4" cy="226.0" r="2.7"/><circle cx="407.8" cy="223.9" r="2.7"/><circle cx="426.1" cy="225.3" r="2.7"/><circle cx="411.3" cy="224.1" r="2.7"/><circle cx="413.4" cy="220.9" r="2.7"/><circle cx="440.1" cy="222.4" r="2.7"/><circle cx="425.4" cy="223.7" r="2.7"/><circle cx="413.7" cy="227.0" r="2.7"/><circle cx="432.6" cy="220.4" r="2.7"/><circle cx="416.9" cy="223.9" r="2.7"/><circle cx="427.1" cy="218.3" r="2.7"/><circle cx="417.5" cy="225.9" r="2.7"/><circle cx="426.6" cy="220.2" r="2.7"/><circle cx="431.0" cy="217.8" r="2.7"/><circle cx="427.4" cy="223.3" r="2.7"/><circle cx="421.9" cy="227.0" r="2.7"/><circle cx="437.3" cy="218.3" r="2.7"/><circle cx="440.6" cy="219.4" r="2.7"/><circle cx="413.5" cy="221.9" r="2.7"/><circle cx="411.8" cy="220.8" r="2.7"/><circle cx="410.9" cy="225.4" r="2.7"/><circle cx="444.7" cy="219.9" r="2.7"/><circle cx="443.2" cy="220.3" r="2.7"/><circle cx="415.5" cy="225.8" r="2.7"/><circle cx="444.3" cy="220.1" r="2.7"/><circle cx="414.6" cy="225.4" r="2.7"/><circle cx="426.3" cy="220.6" r="2.7"/><circle cx="425.9" cy="219.9" r="2.7"/><circle cx="442.2" cy="217.0" r="2.7"/><circle cx="408.1" cy="230.0" r="2.7"/><circle cx="418.8" cy="222.9" r="2.7"/><circle cx="429.9" cy="224.0" r="2.7"/><circle cx="409.1" cy="224.2" r="2.7"/><circle cx="415.7" cy="224.5" r="2.7"/><circle cx="424.6" cy="223.7" r="2.7"/><circle cx="440.9" cy="228.3" r="2.7"/><circle cx="436.2" cy="219.8" r="2.7"/><circle cx="438.8" cy="218.1" r="2.7"/><circle cx="436.2" cy="219.9" r="2.7"/><circle cx="434.1" cy="219.0" r="2.7"/><circle cx="439.6" cy="224.9" r="2.7"/><circle cx="433.1" cy="225.6" r="2.7"/><circle cx="435.2" cy="220.1" r="2.7"/><circle cx="418.3" cy="219.7" r="2.7"/><circle cx="413.0" cy="223.1" r="2.7"/><circle cx="436.0" cy="227.1" r="2.7"/><circle cx="413.0" cy="215.7" r="2.7"/><circle cx="442.4" cy="224.1" r="2.7"/><circle cx="429.8" cy="220.1" r="2.7"/><circle cx="419.3" cy="227.0" r="2.7"/><circle cx="443.0" cy="219.2" r="2.7"/><circle cx="412.6" cy="223.3" r="2.7"/><circle cx="426.6" cy="219.0" r="2.7"/><circle cx="410.1" cy="221.4" r="2.7"/><circle cx="444.2" cy="226.5" r="2.7"/><circle cx="428.9" cy="225.8" r="2.7"/><circle cx="437.8" cy="221.6" r="2.7"/><circle cx="417.5" cy="221.3" r="2.7"/><circle cx="437.8" cy="217.1" r="2.7"/><circle cx="433.9" cy="221.9" r="2.7"/><circle cx="431.6" cy="223.1" r="2.7"/><circle cx="443.6" cy="222.2" r="2.7"/><circle cx="423.4" cy="223.4" r="2.7"/><circle cx="422.7" cy="220.3" r="2.7"/><circle cx="433.5" cy="222.9" r="2.7"/><circle cx="439.1" cy="222.6" r="2.7"/><circle cx="419.6" cy="227.7" r="2.7"/><circle cx="432.6" cy="228.7" r="2.7"/><circle cx="414.7" cy="223.7" r="2.7"/><circle cx="428.0" cy="221.1" r="2.7"/><circle cx="436.5" cy="222.7" r="2.7"/><circle cx="409.0" cy="222.5" r="2.7"/><circle cx="434.9" cy="220.8" r="2.7"/><circle cx="407.1" cy="224.3" r="2.7"/><circle cx="443.9" cy="219.3" r="2.7"/><circle cx="424.8" cy="225.4" r="2.7"/><circle cx="422.5" cy="223.4" r="2.7"/><circle cx="434.6" cy="223.8" r="2.7"/><circle cx="426.9" cy="222.9" r="2.7"/><circle cx="435.0" cy="220.8" r="2.7"/><circle cx="409.8" cy="221.5" r="2.7"/><circle cx="428.4" cy="222.7" r="2.7"/><circle cx="428.3" cy="221.7" r="2.7"/><circle cx="442.9" cy="223.2" r="2.7"/><circle cx="408.0" cy="224.4" r="2.7"/><circle cx="424.2" cy="219.5" r="2.7"/><circle cx="431.1" cy="223.4" r="2.7"/><circle cx="428.0" cy="219.4" r="2.7"/><circle cx="409.4" cy="222.5" r="2.7"/><circle cx="429.6" cy="222.4" r="2.7"/><circle cx="415.2" cy="217.8" r="2.7"/><circle cx="414.1" cy="224.4" r="2.7"/><circle cx="440.8" cy="223.1" r="2.7"/><circle cx="414.2" cy="223.6" r="2.7"/><circle cx="424.2" cy="222.3" r="2.7"/><circle cx="435.8" cy="221.8" r="2.7"/><circle cx="434.1" cy="220.1" r="2.7"/><circle cx="428.1" cy="222.6" r="2.7"/><circle cx="438.0" cy="221.1" r="2.7"/><circle cx="424.7" cy="223.9" r="2.7"/><circle cx="430.7" cy="219.6" r="2.7"/><circle cx="490.7" cy="219.8" r="2.7"/><circle cx="496.9" cy="216.1" r="2.7"/><circle cx="475.1" cy="221.1" r="2.7"/><circle cx="485.2" cy="220.7" r="2.7"/><circle cx="483.0" cy="217.5" r="2.7"/><circle cx="468.5" cy="214.6" r="2.7"/><circle cx="470.2" cy="221.4" r="2.7"/><circle cx="495.6" cy="214.4" r="2.7"/><circle cx="481.9" cy="217.7" r="2.7"/><circle cx="493.0" cy="215.3" r="2.7"/><circle cx="468.2" cy="219.2" r="2.7"/><circle cx="485.9" cy="210.5" r="2.7"/><circle cx="495.0" cy="221.2" r="2.7"/><circle cx="495.0" cy="217.9" r="2.7"/><circle cx="466.2" cy="224.3" r="2.7"/><circle cx="483.5" cy="225.4" r="2.7"/><circle cx="478.4" cy="219.3" r="2.7"/><circle cx="491.5" cy="211.4" r="2.7"/><circle cx="468.5" cy="217.3" r="2.7"/><circle cx="474.9" cy="215.5" r="2.7"/><circle cx="493.2" cy="215.6" r="2.7"/><circle cx="481.7" cy="219.1" r="2.7"/><circle cx="481.2" cy="212.1" r="2.7"/><circle cx="498.4" cy="217.7" r="2.7"/><circle cx="476.7" cy="214.3" r="2.7"/><circle cx="467.4" cy="221.4" r="2.7"/><circle cx="479.1" cy="218.8" r="2.7"/><circle cx="471.1" cy="219.0" r="2.7"/><circle cx="468.7" cy="220.0" r="2.7"/><circle cx="485.0" cy="216.6" r="2.7"/><circle cx="497.9" cy="214.5" r="2.7"/><circle cx="485.4" cy="212.7" r="2.7"/><circle cx="487.7" cy="218.0" r="2.7"/><circle cx="476.8" cy="225.7" r="2.7"/><circle cx="485.1" cy="225.2" r="2.7"/><circle cx="491.2" cy="222.1" r="2.7"/><circle cx="485.7" cy="220.7" r="2.7"/><circle cx="492.9" cy="215.1" r="2.7"/><circle cx="484.4" cy="223.4" r="2.7"/><circle cx="472.6" cy="219.7" r="2.7"/><circle cx="485.5" cy="218.1" r="2.7"/><circle cx="482.4" cy="217.8" r="2.7"/><circle cx="471.6" cy="220.3" r="2.7"/><circle cx="486.7" cy="216.7" r="2.7"/><circle cx="493.4" cy="217.0" r="2.7"/><circle cx="470.5" cy="216.4" r="2.7"/><circle cx="484.3" cy="217.3" r="2.7"/><circle cx="490.6" cy="225.4" r="2.7"/><circle cx="479.5" cy="218.9" r="2.7"/><circle cx="475.0" cy="218.8" r="2.7"/><circle cx="478.5" cy="221.1" r="2.7"/><circle cx="484.1" cy="221.0" r="2.7"/><circle cx="489.0" cy="214.1" r="2.7"/><circle cx="484.7" cy="217.8" r="2.7"/><circle cx="469.6" cy="223.3" r="2.7"/><circle cx="493.4" cy="218.2" r="2.7"/><circle cx="496.9" cy="217.2" r="2.7"/><circle cx="469.4" cy="225.5" r="2.7"/><circle cx="474.4" cy="217.4" r="2.7"/><circle cx="471.8" cy="220.3" r="2.7"/><circle cx="540.0" cy="212.0" r="2.7"/><circle cx="526.7" cy="211.5" r="2.7"/><circle cx="543.6" cy="203.8" r="2.7"/><circle cx="524.4" cy="212.4" r="2.7"/><circle cx="551.6" cy="205.8" r="2.7"/><circle cx="528.2" cy="210.6" r="2.7"/><circle cx="529.7" cy="211.8" r="2.7"/><circle cx="528.1" cy="208.8" r="2.7"/><circle cx="552.2" cy="195.8" r="2.7"/><circle cx="530.7" cy="212.9" r="2.7"/><circle cx="540.5" cy="209.5" r="2.7"/><circle cx="552.2" cy="203.6" r="2.7"/><circle cx="551.0" cy="203.8" r="2.7"/><circle cx="523.3" cy="215.2" r="2.7"/><circle cx="537.9" cy="206.3" r="2.7"/><circle cx="540.3" cy="204.7" r="2.7"/><circle cx="543.4" cy="205.5" r="2.7"/><circle cx="532.2" cy="213.5" r="2.7"/><circle cx="532.0" cy="204.8" r="2.7"/><circle cx="522.1" cy="216.0" r="2.7"/><circle cx="523.1" cy="209.6" r="2.7"/><circle cx="538.8" cy="203.9" r="2.7"/><circle cx="524.3" cy="215.8" r="2.7"/><circle cx="528.2" cy="210.2" r="2.7"/><circle cx="532.2" cy="205.1" r="2.7"/><circle cx="524.1" cy="210.3" r="2.7"/><circle cx="522.9" cy="215.0" r="2.7"/><circle cx="550.3" cy="207.9" r="2.7"/><circle cx="535.3" cy="207.2" r="2.7"/><circle cx="528.2" cy="211.9" r="2.7"/><circle cx="543.6" cy="208.5" r="2.7"/><circle cx="522.3" cy="209.8" r="2.7"/><circle cx="529.5" cy="211.4" r="2.7"/><circle cx="551.3" cy="203.3" r="2.7"/><circle cx="549.4" cy="202.3" r="2.7"/><circle cx="541.4" cy="205.1" r="2.7"/><circle cx="524.8" cy="211.6" r="2.7"/><circle cx="531.7" cy="209.7" r="2.7"/><circle cx="522.9" cy="209.9" r="2.7"/><circle cx="528.7" cy="208.9" r="2.7"/><circle cx="522.8" cy="215.6" r="2.7"/><circle cx="525.8" cy="211.8" r="2.7"/><circle cx="541.3" cy="209.8" r="2.7"/><circle cx="525.1" cy="215.4" r="2.7"/><circle cx="526.8" cy="212.9" r="2.7"/><circle cx="549.5" cy="211.8" r="2.7"/><circle cx="532.2" cy="206.7" r="2.7"/><circle cx="532.2" cy="212.2" r="2.7"/><circle cx="524.6" cy="210.3" r="2.7"/><circle cx="546.3" cy="211.5" r="2.7"/><circle cx="542.6" cy="212.2" r="2.7"/><circle cx="538.7" cy="201.0" r="2.7"/><circle cx="540.8" cy="203.7" r="2.7"/><circle cx="525.1" cy="213.6" r="2.7"/><circle cx="529.9" cy="212.8" r="2.7"/><circle cx="539.8" cy="209.8" r="2.7"/><circle cx="551.0" cy="203.3" r="2.7"/><circle cx="546.9" cy="206.5" r="2.7"/><circle cx="541.5" cy="209.0" r="2.7"/><circle cx="537.8" cy="207.6" r="2.7"/><circle cx="522.5" cy="215.4" r="2.7"/><circle cx="549.2" cy="196.5" r="2.7"/><circle cx="524.0" cy="213.7" r="2.7"/><circle cx="525.9" cy="207.6" r="2.7"/><circle cx="543.1" cy="209.5" r="2.7"/><circle cx="546.8" cy="204.3" r="2.7"/><circle cx="546.0" cy="202.3" r="2.7"/><circle cx="535.8" cy="209.7" r="2.7"/><circle cx="527.4" cy="207.6" r="2.7"/><circle cx="523.1" cy="208.7" r="2.7"/><circle cx="548.0" cy="199.3" r="2.7"/><circle cx="551.8" cy="203.2" r="2.7"/><circle cx="529.4" cy="211.9" r="2.7"/><circle cx="548.4" cy="208.0" r="2.7"/><circle cx="534.3" cy="208.4" r="2.7"/><circle cx="531.5" cy="213.2" r="2.7"/><circle cx="537.4" cy="208.1" r="2.7"/><circle cx="522.2" cy="211.6" r="2.7"/><circle cx="535.5" cy="210.5" r="2.7"/><circle cx="528.1" cy="214.1" r="2.7"/><circle cx="543.7" cy="204.9" r="2.7"/><circle cx="537.3" cy="207.2" r="2.7"/><circle cx="583.5" cy="189.2" r="2.7"/><circle cx="579.5" cy="188.0" r="2.7"/><circle cx="582.1" cy="196.0" r="2.7"/><circle cx="586.2" cy="194.4" r="2.7"/><circle cx="580.3" cy="184.8" r="2.7"/><circle cx="585.6" cy="187.8" r="2.7"/><circle cx="584.1" cy="196.4" r="2.7"/><circle cx="581.6" cy="191.9" r="2.7"/><circle cx="584.9" cy="187.9" r="2.7"/><circle cx="581.5" cy="188.5" r="2.7"/><circle cx="585.8" cy="184.7" r="2.7"/><circle cx="580.1" cy="189.3" r="2.7"/><circle cx="580.3" cy="188.0" r="2.7"/><circle cx="584.8" cy="189.8" r="2.7"/><circle cx="582.6" cy="187.1" r="2.7"/><circle cx="580.5" cy="188.2" r="2.7"/><circle cx="583.1" cy="184.0" r="2.7"/><circle cx="581.6" cy="189.0" r="2.7"/><circle cx="583.3" cy="185.0" r="2.7"/><circle cx="584.7" cy="186.6" r="2.7"/><circle cx="97.5" cy="203.5" r="2.7"/><circle cx="92.5" cy="213.0" r="2.7"/><circle cx="99.3" cy="207.7" r="2.7"/><circle cx="104.0" cy="223.0" r="2.7"/><circle cx="103.3" cy="234.3" r="2.7"/><circle cx="103.0" cy="241.7" r="2.7"/><circle cx="102.0" cy="250.3" r="2.7"/><circle cx="93.3" cy="248.7" r="2.7"/><circle cx="90.7" cy="240.0" r="2.7"/><circle cx="132.5" cy="206.0" r="2.7"/><circle cx="142.0" cy="208.0" r="2.7"/><circle cx="143.0" cy="209.5" r="2.7"/><circle cx="140.5" cy="211.0" r="2.7"/><circle cx="145.5" cy="212.0" r="2.7"/><circle cx="145.8" cy="219.0" r="2.7"/><circle cx="131.0" cy="242.0" r="2.7"/><circle cx="139.5" cy="246.0" r="2.7"/><circle cx="145.0" cy="240.0" r="2.7"/><circle cx="134.0" cy="238.0" r="2.7"/><circle cx="406.6" cy="218.3" r="2.7"/><circle cx="424.5" cy="210.0" r="2.7"/><circle cx="428.8" cy="212.5" r="2.7"/><circle cx="437.8" cy="212.0" r="2.7"/><circle cx="447.8" cy="219.0" r="2.7"/><circle cx="410.0" cy="228.0" r="2.7"/><circle cx="419.2" cy="234.5" r="2.7"/><circle cx="429.6" cy="233.0" r="2.7"/><circle cx="437.2" cy="231.0" r="2.7"/><circle cx="443.2" cy="237.0" r="2.7"/><circle cx="477.6" cy="207.5" r="2.7"/><circle cx="486.0" cy="206.0" r="2.7"/><circle cx="495.0" cy="211.0" r="2.7"/><circle cx="499.0" cy="215.0" r="2.7"/><circle cx="504.0" cy="220.0" r="2.7"/><circle cx="504.0" cy="231.0" r="2.7"/><circle cx="497.5" cy="235.0" r="2.7"/><circle cx="465.5" cy="233.0" r="2.7"/><circle cx="463.6" cy="223.0" r="2.7"/><circle cx="474.5" cy="228.5" r="2.7"/><circle cx="482.0" cy="230.0" r="2.7"/><circle cx="488.0" cy="234.0" r="2.7"/><circle cx="523.0" cy="202.0" r="2.7"/><circle cx="530.0" cy="196.5" r="2.7"/><circle cx="541.0" cy="197.5" r="2.7"/><circle cx="557.0" cy="187.5" r="2.7"/><circle cx="556.0" cy="199.0" r="2.7"/><circle cx="558.5" cy="201.0" r="2.7"/><circle cx="555.0" cy="195.0" r="2.7"/><circle cx="557.5" cy="193.0" r="2.7"/><circle cx="556.5" cy="204.0" r="2.7"/><circle cx="558.0" cy="197.0" r="2.7"/><circle cx="555.5" cy="191.0" r="2.7"/><circle cx="559.0" cy="200.0" r="2.7"/><circle cx="521.0" cy="218.5" r="2.7"/><circle cx="524.5" cy="222.0" r="2.7"/><circle cx="540.5" cy="220.0" r="2.7"/><circle cx="548.0" cy="211.5" r="2.7"/><circle cx="551.0" cy="208.5" r="2.7"/><circle cx="576.0" cy="204.0" r="2.7"/><circle cx="579.5" cy="184.0" r="2.7"/><circle cx="583.0" cy="196.0" r="2.7"/><circle cx="581.0" cy="188.0" r="2.7"/><circle cx="585.0" cy="183.0" r="2.7"/></g>
<path d="M87.7 228.00L89.7 228.00L91.7 227.99L93.7 227.99L95.7 227.99L97.7 227.98L99.7 227.98L101.7 227.97L103.7 227.97L105.7 227.97L107.7 227.96L109.7 227.96L111.7 227.95L113.7 227.95L115.7 227.95L117.7 227.94L119.7 227.94L121.7 227.93L123.7 227.93L125.7 227.92L127.7 227.92L129.7 227.91L131.7 227.91L133.7 227.90L135.7 227.90L137.7 227.89L139.7 227.89L141.7 227.88L143.7 227.88L145.7 227.87L147.7 227.87L149.7 227.86L151.7 227.86L153.7 227.85L155.7 227.84L157.7 227.84L159.7 227.83L161.7 227.83L163.7 227.82L165.7 227.81L167.7 227.81L169.7 227.80L171.7 227.79L173.7 227.79L175.7 227.78L177.7 227.77L179.7 227.76L181.7 227.76L183.7 227.75L185.7 227.74L187.7 227.73L189.7 227.73L191.7 227.72L193.7 227.71L195.7 227.70L197.7 227.69L199.7 227.68L201.7 227.68L203.7 227.67L205.7 227.66L207.7 227.65L209.7 227.64L211.7 227.63L213.7 227.62L215.7 227.61L217.7 227.60L219.7 227.59L221.7 227.58L223.7 227.57L225.7 227.56L227.7 227.54L229.7 227.53L231.7 227.52L233.7 227.51L235.7 227.50L237.7 227.48L239.7 227.47L241.7 227.46L243.7 227.45L245.7 227.43L247.7 227.42L249.7 227.40L251.7 227.39L253.7 227.38L255.7 227.36L257.7 227.35L259.7 227.33L261.7 227.31L263.7 227.30L265.7 227.28L267.7 227.27L269.7 227.25L271.7 227.23L273.7 227.21L275.7 227.20L277.7 227.18L279.7 227.16L281.7 227.14L283.7 227.12L285.7 227.10L287.7 227.08L289.7 227.06L291.7 227.04L293.7 227.01L295.7 226.99L297.7 226.97L299.7 226.95L301.7 226.92L303.7 226.90L305.7 226.87L307.7 226.85L309.7 226.82L311.7 226.79L313.7 226.77L315.7 226.74L317.7 226.71L319.7 226.68L321.7 226.65L323.7 226.62L325.7 226.59L327.7 226.56L329.7 226.53L331.7 226.49L333.7 226.46L335.7 226.42L337.7 226.39L339.7 226.35L341.7 226.32L343.7 226.28L345.7 226.24L347.7 226.20L349.7 226.16L351.7 226.12L353.7 226.07L355.7 226.03L357.7 225.98L359.7 225.94L361.7 225.89L363.7 225.84L365.7 225.79L367.7 225.74L369.7 225.69L371.7 225.63L373.7 225.58L375.7 225.52L377.7 225.47L379.7 225.41L381.7 225.35L383.7 225.28L385.7 225.22L387.7 225.16L389.7 225.09L391.7 225.02L393.7 224.95L395.7 224.88L397.7 224.80L399.7 224.73L401.7 224.65L403.7 224.57L405.7 224.49L407.7 224.40L409.7 224.31L411.7 224.23L413.7 224.13L415.7 224.04L417.7 223.94L419.7 223.84L421.7 223.74L423.7 223.64L425.7 223.53L427.7 223.42L429.7 223.31L431.7 223.19L433.7 223.07L435.7 222.94L437.7 222.82L439.7 222.69L441.7 222.55L443.7 222.41L445.7 222.27L447.7 222.12L449.7 221.97L451.7 221.82L453.7 221.66L455.7 221.49L457.7 221.33L459.7 221.15L461.7 220.97L463.7 220.79L465.7 220.60L467.7 220.40L469.7 220.20L471.7 219.99L473.7 219.78L475.7 219.56L477.7 219.33L479.7 219.10L481.7 218.86L483.7 218.61L485.7 218.35L487.7 218.09L489.7 217.81L491.7 217.53L493.7 217.24L495.7 216.95L497.7 216.64L499.7 216.32L501.7 215.99L503.7 215.65L505.7 215.30L507.7 214.94L509.7 214.57L511.7 214.19L513.7 213.79L515.7 213.39L517.7 212.96L519.7 212.53L521.7 212.08L523.7 211.62L525.7 211.14L527.7 210.64L529.7 210.13L531.7 209.61L533.7 209.06L535.7 208.50L537.7 207.92L539.7 207.32L541.7 206.70L543.7 206.06L545.7 205.40L547.7 204.72L549.7 204.02L551.7 203.29L553.7 202.54L555.7 201.76L557.7 200.96L559.7 200.14L561.7 199.28L563.7 198.40L565.7 197.49L567.7 196.55L569.7 195.58L571.7 194.58L573.7 193.55L575.7 192.48L577.7 191.38L579.7 190.25L581.7 189.08L583.7 187.87L585.7 186.62" stroke="#f0f" stroke-width="1" fill="none"/>
</g>
<text x="337.8" y="40.5" text-anchor="middle" textLength="198.0" lengthAdjust="spacingAndGlyphs" font-family="'Liberation Serif', 'DejaVu Serif', serif" font-size="19.5" fill="#000" stroke="#000" stroke-width="0.4" >OGLE-2026-BLG-0304</text>
<text x="337.0" y="490.8" text-anchor="middle" textLength="129.5" lengthAdjust="spacingAndGlyphs" font-family="'Liberation Serif', 'DejaVu Serif', serif" font-size="19.5" fill="#000" stroke="#000" stroke-width="0.4" >HJD - 2450000</text>
<text x="100.5" y="463.0" text-anchor="middle" textLength="42.0" lengthAdjust="spacingAndGlyphs" font-family="'Liberation Serif', 'DejaVu Serif', serif" font-size="19.5" fill="#000" stroke="#000" stroke-width="0.4" >8000</text>
<text x="254.8" y="463.0" text-anchor="middle" textLength="42.0" lengthAdjust="spacingAndGlyphs" font-family="'Liberation Serif', 'DejaVu Serif', serif" font-size="19.5" fill="#000" stroke="#000" stroke-width="0.4" >9000</text>
<text x="409.8" y="463.0" text-anchor="middle" textLength="52.0" lengthAdjust="spacingAndGlyphs" font-family="'Liberation Serif', 'DejaVu Serif', serif" font-size="19.5" fill="#000" stroke="#000" stroke-width="0.4" >10000</text>
<text x="564.5" y="463.0" text-anchor="middle" textLength="51.5" lengthAdjust="spacingAndGlyphs" font-family="'Liberation Serif', 'DejaVu Serif', serif" font-size="19.5" fill="#000" stroke="#000" stroke-width="0.4" >11000</text>
<text x="78.6" y="125.4" text-anchor="end" textLength="19.5" lengthAdjust="spacingAndGlyphs" font-family="'Liberation Serif', 'DejaVu Serif', serif" font-size="19.5" fill="#000" stroke="#000" stroke-width="0.4" >17</text>
<text x="78.6" y="184.9" text-anchor="end" textLength="37.0" lengthAdjust="spacingAndGlyphs" font-family="'Liberation Serif', 'DejaVu Serif', serif" font-size="19.5" fill="#000" stroke="#000" stroke-width="0.4" >17.2</text>
<text x="78.6" y="244.4" text-anchor="end" textLength="37.0" lengthAdjust="spacingAndGlyphs" font-family="'Liberation Serif', 'DejaVu Serif', serif" font-size="19.5" fill="#000" stroke="#000" stroke-width="0.4" >17.4</text>
<text x="78.6" y="303.9" text-anchor="end" textLength="37.0" lengthAdjust="spacingAndGlyphs" font-family="'Liberation Serif', 'DejaVu Serif', serif" font-size="19.5" fill="#000" stroke="#000" stroke-width="0.4" >17.6</text>
<text x="78.6" y="363.4" text-anchor="end" textLength="37.0" lengthAdjust="spacingAndGlyphs" font-family="'Liberation Serif', 'DejaVu Serif', serif" font-size="19.5" fill="#000" stroke="#000" stroke-width="0.4" >17.8</text>
<text x="78.6" y="422.9" text-anchor="end" textLength="19.5" lengthAdjust="spacingAndGlyphs" font-family="'Liberation Serif', 'DejaVu Serif', serif" font-size="19.5" fill="#000" stroke="#000" stroke-width="0.4" >18</text>
<text x="0.0" y="0.0" text-anchor="middle" textLength="105.5" lengthAdjust="spacingAndGlyphs" font-family="'Liberation Serif', 'DejaVu Serif', serif" font-size="20.6" fill="#000" stroke="#000" stroke-width="0.4" transform="translate(27.4 249.2) rotate(-90)">I magnitude</text>
</svg>
</body></html>
